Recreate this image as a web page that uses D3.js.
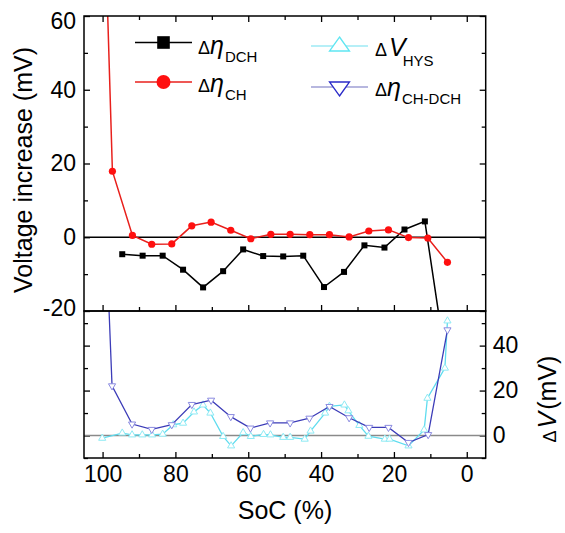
<!DOCTYPE html>
<html>
<head>
<meta charset="utf-8">
<script src="https://cdn.jsdelivr.net/npm/d3@7"></script>
<style>
  body { margin: 0; background: #fff; }
  svg { font-family: "Liberation Sans", Arial, sans-serif; }
</style>
</head>
<body>
<div id="chart"></div>
<script>
// SoC positions and values
const dchSoc = [94.6, 89.0, 83.5, 77.9, 72.4, 66.9, 61.4, 55.9, 50.4, 44.9, 39.2, 33.7, 28.1, 22.6, 17.1, 11.5, 6.0];
const dchVal = [-4.6, -5.0, -5.0, -8.8, -13.6, -9.2, -3.3, -5.1, -5.2, -5.0, -13.5, -9.4, -2.2, -2.8, 2.1, 4.3, -32];

const chSoc = [99.8, 97.3, 91.8, 86.5, 81.0, 75.5, 70.2, 64.8, 59.3, 53.8, 48.5, 43.1, 37.7, 32.3, 26.9, 21.5, 16.0, 10.7, 5.3];
const chVal = [100, 17.9, 0.5, -1.9, -1.8, 3.1, 4.1, 1.9, -0.4, 0.8, 0.8, 0.7, 0.7, 0.1, 1.7, 2.0, -0.1, -0.2, -6.8];

const diffSoc = [99.8, 97.4, 91.9, 86.5, 81.0, 75.5, 70.2, 64.8, 59.4, 54.0, 48.5, 43.2, 37.7, 32.3, 26.8, 21.5, 16.0, 10.6, 5.3];
const diffVal = [120, 22.1, 5.1, 2.7, 4.8, 13.8, 15.7, 8.4, 3.3, 5.6, 5.6, 7.7, 12.9, 7.9, 3.6, 3.6, -3.1, 0.4, 47.0];

const hysSoc = [100.1, 94.6, 91.9, 89.1, 86.4, 83.5, 80.6, 77.9, 74.9, 72.4, 70.4, 66.9, 64.7, 61.4, 59.3, 55.8, 53.9, 50.4, 48.5, 44.5, 42.9, 38.9, 37.7, 33.6, 32.5, 29.5, 27.0, 22.5, 21.2, 16.0, 11.7, 10.8, 6.0, 5.3];
const hysVal = [-1.2, 1.1, 0.3, 0.3, 0.3, 0.6, 4.8, 5.5, 10.5, 13.6, 10, -0.4, -4.6, 1.3, -0.4, 0.5, 0.3, -0.8, -0.8, -1.6, 2.0, 10, 13, 13.6, 11, 4.5, -0.3, -1.6, -1.6, -4.6, 2.5, 16.6, 30, 51];

const xMajor = [100, 80, 60, 40, 20, 0];
const xMinor = [90, 70, 50, 30, 10];
const topMajor = [60, 40, 20, 0, -20];
const topMinor = [50, 30, 10, -10];
const botMajor = [0, 20, 40];
const botMinor = [-10, 10, 30, 50];

const width = 565, height = 533;
const left = 84, right = 485.7, top1 = 16, bot1 = 311, bot2 = 458;

const svg = d3.select("#chart")
    .append("svg")
    .attr("width", width)
    .attr("height", height);

// scales
const xScale = d3.scaleLinear().domain([105.1, -5.2]).range([left, right]);
const yTop = d3.scaleLinear().domain([-20, 60]).range([bot1, top1]);
const yBot = d3.scaleLinear().domain([-10, 55.4]).range([bot2, bot1]);

// clip areas for each panel
const defs = svg.append("defs");
defs.append("clipPath").attr("id", "clipTop")
  .append("rect").attr("x", left).attr("y", top1).attr("width", right - left).attr("height", bot1 - top1);
defs.append("clipPath").attr("id", "clipBot")
  .append("rect").attr("x", left).attr("y", bot1).attr("width", right - left).attr("height", bot2 - bot1);

// draw an axis with inward major/minor ticks
function ticks(axisFn, scale, major, minor, transform, labels, pad) {
  const gMin = svg.append("g").attr("transform", transform)
    .call(axisFn(scale).tickValues(minor).tickSize(-4).tickSizeOuter(0).tickFormat(""));
  const gMaj = svg.append("g").attr("transform", transform)
    .call(axisFn(scale).tickValues(major).tickSize(-6).tickSizeOuter(0)
      .tickPadding(pad || 6).tickFormat(labels ? (d => String(d)) : ""));
  [gMin, gMaj].forEach(g => {
    g.select(".domain").remove();
    g.selectAll("line").attr("stroke", "#000").attr("stroke-width", 1.3);
    g.selectAll("text").attr("font-size", 23).attr("fill", "#000")
      .attr("font-family", "Liberation Sans, Arial, sans-serif");
  });
  return gMaj;
}

// top panel axes
const yLeftTop = ticks(d3.axisLeft, yTop, topMajor, topMinor, `translate(${left},0)`, true, 8);
yLeftTop.selectAll("text").attr("dy", d => d === 60 ? "0.55em" : (d === -20 ? "0.2em" : "0.32em"));
ticks(d3.axisRight, yTop, topMajor, topMinor, `translate(${right},0)`, false);
ticks(d3.axisTop, xScale, xMajor, xMinor, `translate(0,${top1})`, false);
ticks(d3.axisBottom, xScale, xMajor, xMinor, `translate(0,${bot1})`, false);

// bottom panel axes
ticks(d3.axisBottom, xScale, xMajor, xMinor, `translate(0,${bot2})`, true, 8);
ticks(d3.axisLeft, yBot, botMajor, botMinor, `translate(${left},0)`, false);
ticks(d3.axisRight, yBot, botMajor, botMinor, `translate(${right},0)`, true, 7);

// zero lines
svg.append("line")
    .attr("x1", left).attr("x2", right)
    .attr("y1", yTop(0)).attr("y2", yTop(0))
    .attr("stroke", "#000").attr("stroke-width", 1.5);
svg.append("line")
    .attr("x1", left).attr("x2", right)
    .attr("y1", yBot(0)).attr("y2", yBot(0))
    .attr("stroke", "#8a8a8a").attr("stroke-width", 1.5);

const zip = (xs, ys) => xs.map((x, i) => ({ x: x, y: ys[i] }));

// top panel series
const topG = svg.append("g").attr("clip-path", "url(#clipTop)");
const lineTop = d3.line().x(d => xScale(d.x)).y(d => yTop(d.y));

topG.append("path").datum(zip(dchSoc, dchVal))
    .attr("d", lineTop).attr("fill", "none").attr("stroke", "#000").attr("stroke-width", 1.5);
topG.selectAll(".sq").data(zip(dchSoc, dchVal)).enter()
    .append("rect").attr("class", "sq")
    .attr("x", d => xScale(d.x) - 3).attr("y", d => yTop(d.y) - 3)
    .attr("width", 6).attr("height", 6).attr("fill", "#000");

topG.append("path").datum(zip(chSoc, chVal))
    .attr("d", lineTop).attr("fill", "none").attr("stroke", "#e8201c").attr("stroke-width", 1.5);
topG.selectAll(".dot").data(zip(chSoc, chVal)).enter()
    .append("circle").attr("class", "dot")
    .attr("cx", d => xScale(d.x)).attr("cy", d => yTop(d.y))
    .attr("r", 3.6).attr("fill", "#ff1010");

// bottom panel series
const botG = svg.append("g").attr("clip-path", "url(#clipBot)");
const lineBot = d3.line().x(d => xScale(d.x)).y(d => yBot(d.y));
const triUp = d3.symbol().type(d3.symbolTriangle).size(22);

botG.append("path").datum(zip(hysSoc, hysVal))
    .attr("d", lineBot).attr("fill", "none").attr("stroke", "#5fdcef").attr("stroke-width", 1.3);
botG.selectAll(".up").data(zip(hysSoc, hysVal)).enter()
    .append("path").attr("class", "up")
    .attr("d", triUp)
    .attr("transform", d => `translate(${xScale(d.x)},${yBot(d.y)})`)
    .attr("fill", "#fff").attr("stroke", "#8eeaf4").attr("stroke-width", 1);

botG.append("path").datum(zip(diffSoc, diffVal))
    .attr("d", lineBot).attr("fill", "none").attr("stroke", "#3c3cb8").attr("stroke-width", 1.3);
botG.selectAll(".down").data(zip(diffSoc, diffVal)).enter()
    .append("path").attr("class", "down")
    .attr("d", triUp)
    .attr("transform", d => `translate(${xScale(d.x)},${yBot(d.y)}) rotate(180)`)
    .attr("fill", "#fff").attr("stroke", "#8a8ae0").attr("stroke-width", 1);

// frames
[[top1, bot1], [bot1, bot2]].forEach(p => {
  svg.append("rect")
    .attr("x", left).attr("y", p[0])
    .attr("width", right - left).attr("height", p[1] - p[0])
    .attr("fill", "none").attr("stroke", "#000").attr("stroke-width", 1.5);
});

// axis titles
svg.append("text")
    .attr("transform", "translate(31.5,170) rotate(-90)")
    .attr("text-anchor", "middle")
    .attr("font-size", 25)
    .text("Voltage increase (mV)");

svg.append("text")
    .attr("x", 285).attr("y", 519)
    .attr("text-anchor", "middle")
    .attr("font-size", 25)
    .text("SoC (%)");

const rTitle = svg.append("text")
    .attr("transform", "translate(556,399) rotate(-90)")
    .attr("text-anchor", "middle");
rTitle.append("tspan").attr("font-size", 18).text("Δ");
rTitle.append("tspan").attr("font-size", 25).attr("font-style", "italic").attr("dx", 2).text("V");
rTitle.append("tspan").attr("font-size", 25).attr("dx", 2).text("(mV)");

// legend
const legend = [
  { x: 135, y: 42.5, color: "#000", mark: "square", main: "η", sub: "DCH", tx: 198, ty: 53.5 },
  { x: 135, y: 82, color: "#e8201c", mark: "circle", main: "η", sub: "CH", tx: 198, ty: 92 },
  { x: 311, y: 46, color: "#6fe0f0", mark: "up", main: "V", sub: "HYS", tx: 375, ty: 56 },
  { x: 311, y: 87, color: "#7070c0", mark: "down", main: "η", sub: "CH-DCH", tx: 375, ty: 96 }
];

legend.forEach(d => {
  svg.append("line")
      .attr("x1", d.x).attr("x2", d.x + 57)
      .attr("y1", d.y).attr("y2", d.y)
      .attr("stroke", d.color).attr("stroke-width", d.mark === "up" || d.mark === "down" ? 1.2 : 1.5);
  const cx = d.x + 28.5;
  if (d.mark === "square") {
    svg.append("rect").attr("x", cx - 6.3).attr("y", d.y - 6.3)
      .attr("width", 12.6).attr("height", 12.6).attr("fill", "#000");
  } else if (d.mark === "circle") {
    svg.append("circle").attr("cx", cx).attr("cy", d.y).attr("r", 7).attr("fill", "#ff1010");
  } else {
    const pts = d.mark === "up"
      ? [[cx, d.y - 9], [cx + 10, d.y + 5], [cx - 10, d.y + 5]]
      : [[cx, d.y + 9], [cx + 10, d.y - 5], [cx - 10, d.y - 5]];
    svg.append("polygon")
      .attr("points", pts.map(p => p.join(",")).join(" "))
      .attr("fill", "#fff")
      .attr("stroke", d.mark === "up" ? "#5fe6f2" : "#2a2ac8")
      .attr("stroke-width", 1.3);
  }
  const t = svg.append("text").attr("x", d.tx).attr("y", d.ty);
  t.append("tspan").attr("font-size", 18).text("Δ");
  t.append("tspan").attr("font-size", 25).attr("font-style", "italic")
    .attr("dx", d.main === "V" ? 2 : 0).text(d.main);
  t.append("tspan").attr("font-size", 15).attr("dy", d.main === "V" ? 10 : 8)
    .attr("dx", d.main === "V" ? -3 : 1).text(d.sub);
});
</script>
</body>
</html>
